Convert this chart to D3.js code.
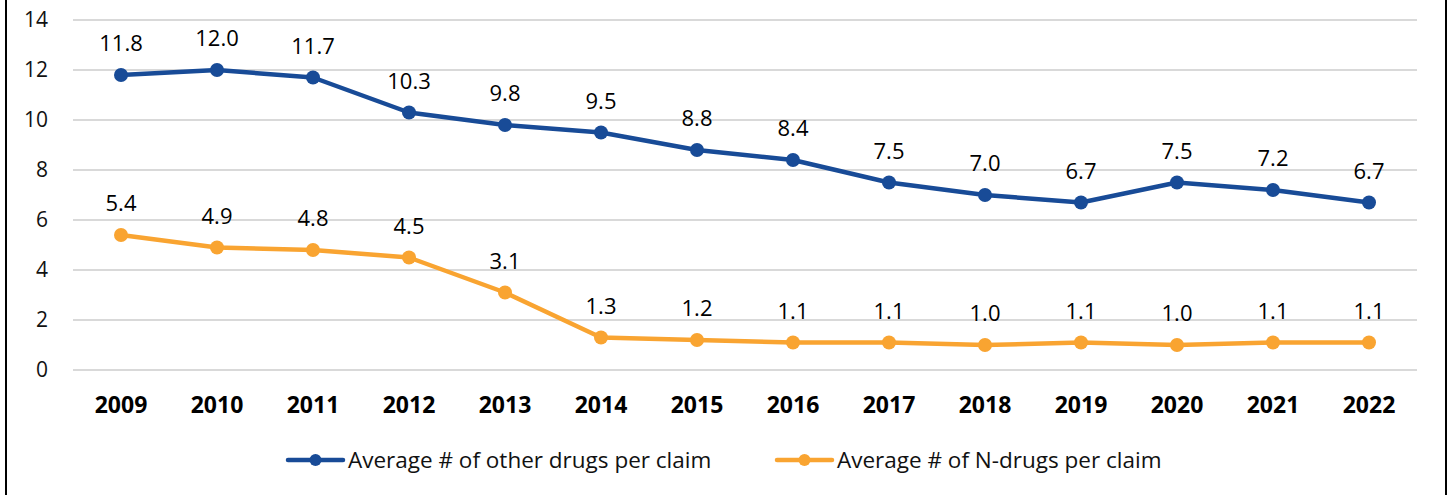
<!DOCTYPE html>
<html>
<head>
<meta charset="utf-8">
<script src="https://cdn.jsdelivr.net/npm/d3@7"></script>
<style>
    body { margin: 0; background: #fff; }
    svg { display: block; font-family: "Open Sans", "Noto Sans", sans-serif; }
</style>
</head>
<body>
<div id="chart"></div>
<script>
const years = ["2009", "2010", "2011", "2012", "2013", "2014", "2015", "2016", "2017", "2018", "2019", "2020", "2021", "2022"];
const otherDrugs = [11.8, 12.0, 11.7, 10.3, 9.8, 9.5, 8.8, 8.4, 7.5, 7.0, 6.7, 7.5, 7.2, 6.7];
const nDrugs = [5.4, 4.9, 4.8, 4.5, 3.1, 1.3, 1.2, 1.1, 1.1, 1.0, 1.1, 1.0, 1.1, 1.1];
const yTicks = [0, 2, 4, 6, 8, 10, 12, 14];
const seriesNames = ["Average # of other drugs per claim", "Average # of N-drugs per claim"];

const width = 1447, height = 495;
const plotLeft = 73, plotRight = 1417, plotTop = 20, plotBottom = 370;

const series = [
    { name: seriesNames[0], values: otherDrugs, color: "#184b97" },
    { name: seriesNames[1], values: nDrugs, color: "#f9a431" }
];

let svg = d3.select("#chart")
    .append("svg")
    .attr("width", width)
    .attr("height", height);

// frame sides
svg.append("line")
    .attr("x1", 6).attr("x2", 6)
    .attr("y1", 0).attr("y2", height)
    .style("stroke", "#000").style("stroke-width", "2px");
svg.append("line")
    .attr("x1", 1446).attr("x2", 1446)
    .attr("y1", 0).attr("y2", height)
    .style("stroke", "#000").style("stroke-width", "2px");

let x = d3.scaleBand()
    .domain(years)
    .range([plotLeft, plotRight]);
let y = d3.scaleLinear()
    .domain([0, 14])
    .range([plotBottom, plotTop]);
let cx = d => x(d) + x.bandwidth() / 2;

// gridlines
svg.selectAll(".grid")
    .data(yTicks)
    .join("line")
    .classed("grid", true)
    .attr("x1", plotLeft)
    .attr("x2", plotRight)
    .attr("y1", d => y(d))
    .attr("y2", d => y(d))
    .style("stroke", "#d9d9d9")
    .style("stroke-width", "2px");

// y labels
svg.selectAll(".yLabel")
    .data(yTicks)
    .join("text")
    .classed("yLabel", true)
    .attr("x", 48)
    .attr("y", d => y(d))
    .attr("dy", "0.35em")
    .attr("text-anchor", "end")
    .attr("font-size", "21px")
    .attr("fill", "#111")
    .text(d => d);

// x labels
svg.selectAll(".xLabel")
    .data(years)
    .join("text")
    .classed("xLabel", true)
    .attr("x", d => cx(d))
    .attr("y", 413)
    .attr("text-anchor", "middle")
    .attr("font-size", "23px")
    .attr("font-weight", "bold")
    .attr("fill", "#000")
    .text(d => d);

let line = d3.line()
    .x((d, i) => cx(years[i]))
    .y(d => y(d));

series.forEach((s, k) => {
    svg.append("path")
        .datum(s.values)
        .attr("d", line)
        .style("fill", "none")
        .style("stroke", s.color)
        .style("stroke-width", "4.5px")
        .style("stroke-linejoin", "round");

    svg.selectAll(".dot" + k)
        .data(s.values)
        .join("circle")
        .classed("dot" + k, true)
        .attr("cx", (d, i) => cx(years[i]))
        .attr("cy", d => y(d))
        .attr("r", 7)
        .style("fill", s.color);

    svg.selectAll(".val" + k)
        .data(s.values)
        .join("text")
        .classed("val" + k, true)
        .attr("x", (d, i) => cx(years[i]))
        .attr("y", d => y(d) - 24)
        .attr("text-anchor", "middle")
        .attr("font-size", "22px")
        .attr("fill", "#000")
        .text(d => d.toFixed(1));
});

// legend
let legendX = [288, 777];
let legend = svg.selectAll(".legend")
    .data(series)
    .join("g")
    .classed("legend", true)
    .attr("transform", (d, i) => `translate(${legendX[i]},460)`);
legend.append("line")
    .attr("x1", 0).attr("x2", 55)
    .attr("y1", 0).attr("y2", 0)
    .style("stroke", d => d.color)
    .style("stroke-width", "4.5px")
    .style("stroke-linecap", "round");
legend.append("circle")
    .attr("cx", 27.5).attr("cy", 0).attr("r", 6)
    .style("fill", d => d.color);
legend.append("text")
    .attr("x", 60)
    .attr("y", 0)
    .attr("dy", "0.35em")
    .attr("font-size", "22.5px")
    .attr("fill", "#111")
    .text(d => d.name);
</script>
</body>
</html>
